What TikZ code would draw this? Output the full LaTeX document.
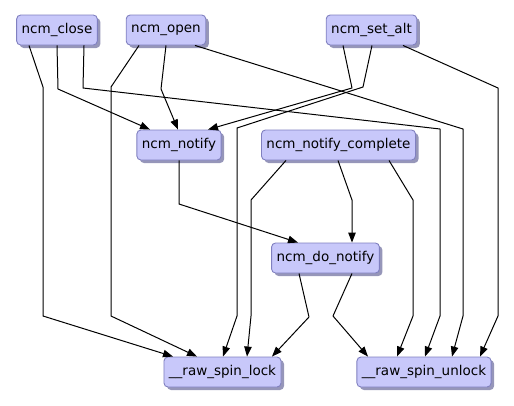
\documentclass[tikz,border=0pt]{standalone}
\usepackage{fontspec}
\setmainfont{DejaVu Sans}
\usepackage{xcolor}
\usepackage{tikz}
\usetikzlibrary{arrows.meta, shadows}
\definecolor{fnfill}{RGB}{200, 200, 250}
\definecolor{fnline}{RGB}{128, 128, 192}
\definecolor{fnshadow}{RGB}{150, 150, 185}

\begin{document}
\begin{tikzpicture}[x=1pt, y=-1pt, line join=round, >={Triangle[length=10pt, width=7.5pt]},
    fn/.style={draw=fnline, fill=fnfill, rounded corners=4pt, line width=0.9pt,
        minimum height=30pt, inner xsep=5pt, font=\fontsize{13.5}{15}\selectfont,
        drop shadow={shadow xshift=3pt, shadow yshift=-3pt, fill=fnshadow, opacity=1}},
    call/.style={->, line width=1pt}]
    \useasboundingbox (0,0) rectangle (514,405);

    % Callers
    \node[fn] (close)  at (57,30)    {ncm\_close};
    \node[fn] (open)   at (166,30)   {ncm\_open};
    \node[fn] (setalt) at (371.5,30) {ncm\_set\_alt};

    % Notify path
    \node[fn] (notify)   at (179,145)   {ncm\_notify};
    \node[fn] (complete) at (338.5,145) {ncm\_notify\_complete};
    \node[fn] (donotify) at (325.5,258) {ncm\_do\_notify};

    % Spin locks
    \node[fn] (lock)   at (222.5,372) {\_\_raw\_spin\_lock};
    \node[fn] (unlock) at (424,372)   {\_\_raw\_spin\_unlock};

    % Calls from ncm_close
    \draw[call] ([xshift=-28pt]close.south) -- (43,87) -- (43,316) -- ([xshift=-49.5pt]lock.north);
    \draw[call] (close.south) -- (58,89) -- ([xshift=-29pt]notify.north);
    \draw[call] ([xshift=27pt]close.south) -- (83,88) -- (440,129) -- (440,316) -- ([xshift=1pt]unlock.north);

    % Calls from ncm_open
    \draw[call] ([xshift=-27pt]open.south) -- (111,87) -- (111,316) -- ([xshift=-25.5pt]lock.north);
    \draw[call] (open.south) -- (161,89) -- ([xshift=-1pt]notify.north);
    \draw[call] ([xshift=29pt]open.south) -- (463,129) -- (463,316) -- ([xshift=28pt]unlock.north);

    % Calls from ncm_set_alt
    \draw[call] ([xshift=-28.5pt]setalt.south) -- (352,88) -- ([xshift=29pt]notify.north);
    \draw[call] ([xshift=0.5pt]setalt.south) -- (363,87) -- (237,128) -- (237,316) -- ([xshift=0.5pt]lock.north);
    \draw[call] ([xshift=31.5pt]setalt.south) -- (498,88) -- (498,316) -- ([xshift=56pt]unlock.north);

    % Calls from ncm_notify and ncm_notify_complete
    \draw[call] (notify.south) -- (179,204) -- ([xshift=-27.5pt]donotify.north);
    \draw[call] ([xshift=-52.5pt]complete.south) -- (251,200) -- (251,316) -- ([xshift=24.5pt]lock.north);
    \draw[call] ([xshift=-0.5pt]complete.south) -- (352,200) -- ([xshift=26.5pt]donotify.north);
    \draw[call] ([xshift=50.5pt]complete.south) -- (413,200) -- (413,316) -- ([xshift=-27pt]unlock.north);

    % Calls from ncm_do_notify
    \draw[call] ([xshift=-26.5pt]donotify.south) -- (309,317) -- ([xshift=49.5pt]lock.north);
    \draw[call] ([xshift=26.5pt]donotify.south) -- (333,316) -- ([xshift=-56pt]unlock.north);
\end{tikzpicture}
\end{document}
